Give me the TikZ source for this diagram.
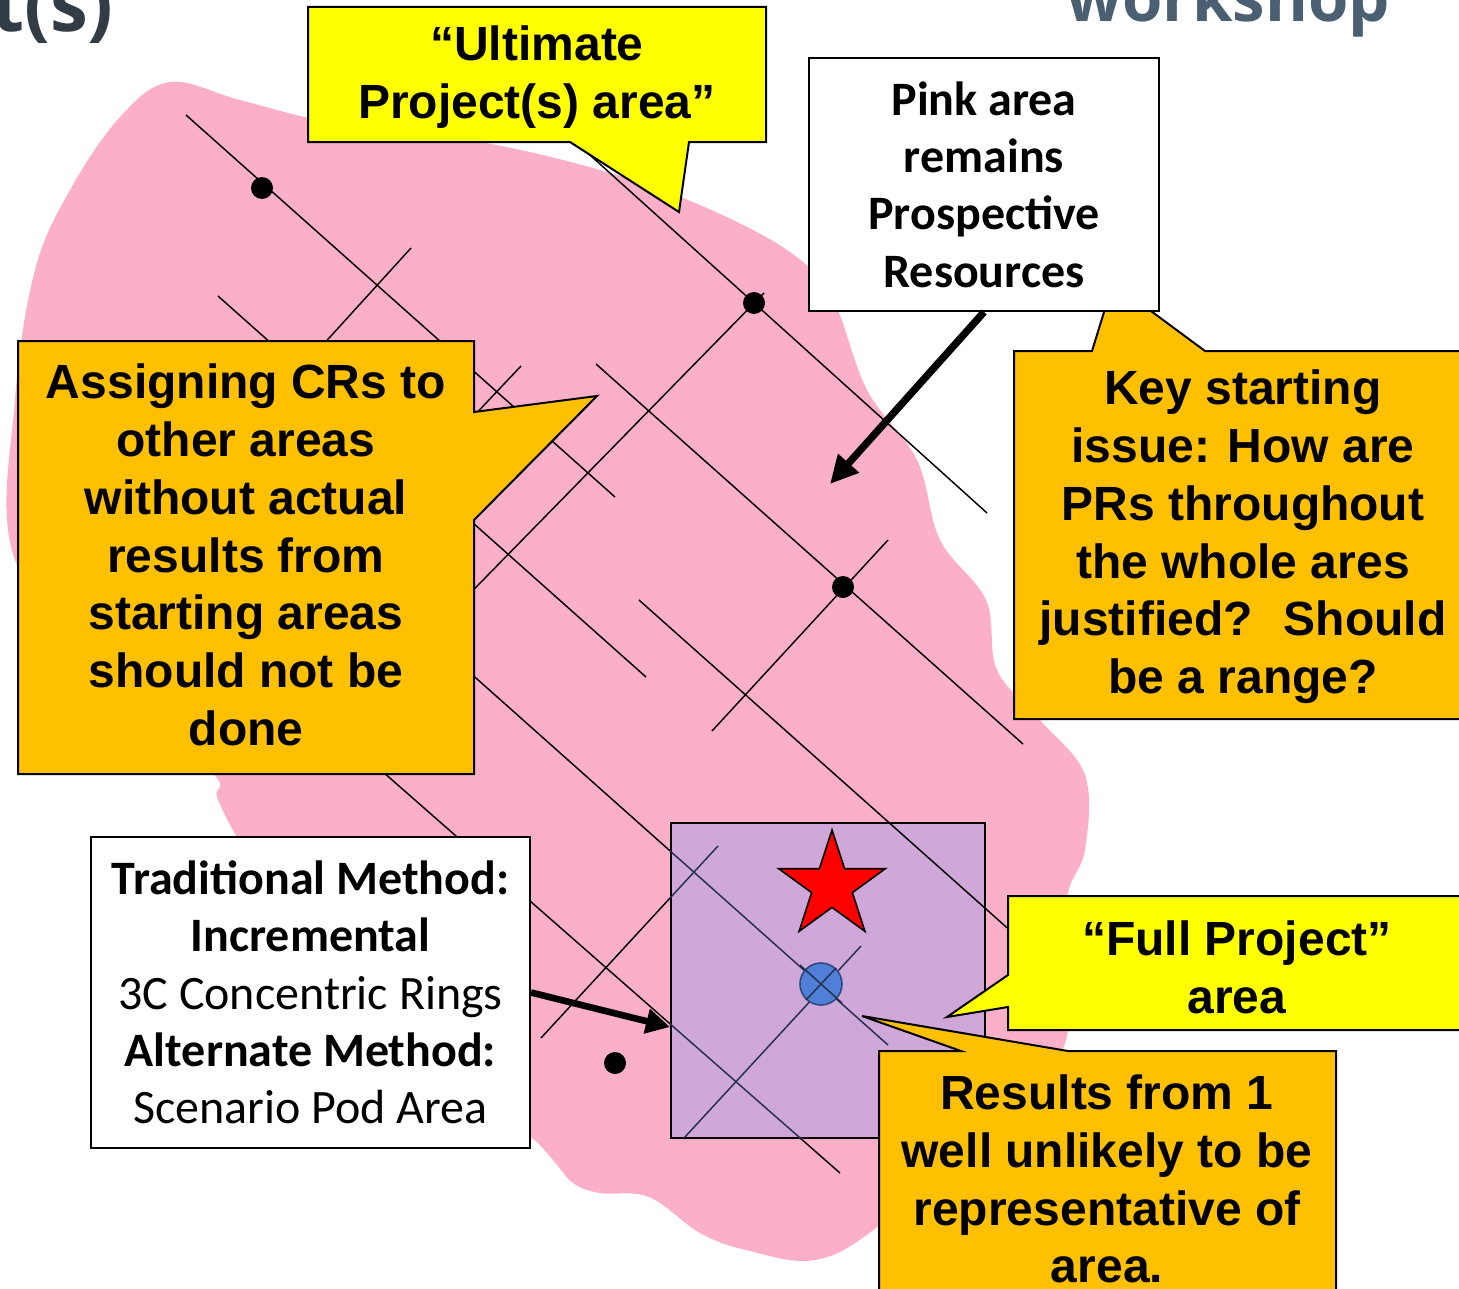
\documentclass[tikz,border=0pt]{standalone}
\usepackage{fontspec}
\setmainfont{Liberation Sans}
\newfontfamily\calibri{Carlito}
\newfontfamily\headfont{Open Sans}
\usetikzlibrary{arrows.meta}

\definecolor{BlobPink}{HTML}{FCAFC9}
\definecolor{PodLilac}{HTML}{CFA8D9}
\definecolor{NoteYellow}{HTML}{FFFF00}
\definecolor{NoteOrange}{HTML}{FFC000}
\definecolor{WellBlue}{HTML}{4F7FD7}
\definecolor{WellEdge}{HTML}{2E4A7D}
\definecolor{PodNavy}{HTML}{24304F}
\definecolor{HeadGray}{HTML}{323C45}
\definecolor{LogoSlate}{HTML}{4A6072}

\tikzset{
  seisline/.style={line width=1.1pt, black},
  podline/.style={line width=1.1pt, PodNavy},
  wellDot/.style={fill=black},
  yellowNote/.style={fill=NoteYellow, draw=black, line width=1.5pt, line join=miter},
  orangeNote/.style={fill=NoteOrange, draw=black, line width=1.5pt, line join=miter},
  noteText/.style={font=\fontsize{36}{43.3}\selectfont\bfseries, align=center, inner sep=0pt},
  whiteNote/.style={draw=black, fill=white, line width=1.5pt, inner sep=0pt,
    align=center, font=\calibri\fontsize{36}{43}\selectfont},
  bigArrow/.style={line width=5.5pt, -{Triangle[length=21pt, width=20pt]}},
}

\begin{document}
\begin{tikzpicture}[x=0.75pt, y=-0.75pt]
  \useasboundingbox (0,0) rectangle (1459,1288);

  % slide heading, cut off by the page edge
  \node[anchor=base east, inner sep=0pt, text=HeadGray,
        font=\headfont\bfseries\fontsize{57}{60}\selectfont] (slideTitle) at (114,32) {t(s)};
  \node[anchor=base west, inner sep=0pt, text=LogoSlate,
        font=\headfont\bfseries\fontsize{49}{52}\selectfont] (workshopLogo) at (1066,22) {workshop};

  % prospective resources (pink area)
  \fill[BlobPink] plot[smooth cycle, tension=0.6] coordinates {
    (170,82) (240,100) (330,122) (480,142) (600,170) (700,205) (790,252)
    (833,300) (867,390) (917,460) (940,540) (986,600) (997,670) (1040,720)
    (1085,775) (1085,850) (1066,905) (1066,1040) (1000,1120) (880,1225)
    (815,1260) (746,1250) (700,1233) (649,1197) (600,1193) (573,1183)
    (553,1160) (530,1137) (500,1133) (463,1110) (413,1070) (380,1043)
    (355,1017) (352,990) (330,967) (290,955) (250,952) (228,944)
    (258,930) (275,903) (263,870) (237,837) (217,797) (213,773) (120,690)
    (15,560) (15,400) (35,270) (70,190) (120,117)};

  % seismic lines
  \foreach \xa/\ya/\xb/\yb in {
      186/115/615/497, 540/110/987/513, 218/296/646/677, 596/364/1023/744,
      440/646/888/1045, 350/743/840/1173,
      411/248/300/370, 521/366/470/420, 440/624/764/293, 712/731/888/540,
      541/1038/718/846, 684/1138/861/946}
    \draw[seisline] (\xa,\ya) -- (\xb,\yb);

  % wells
  \foreach \x/\y in {262/188, 754/303, 843/587, 615/1063}
    \fill[wellDot] (\x,\y) circle (11);

  % scenario pod
  \node[draw=black, fill=PodLilac, line width=1.5pt, inner sep=0pt,
        minimum width=235.5pt, minimum height=236.25pt] (pod) at (828,980.5) {};
  \begin{scope}
    \clip (pod.south west) rectangle (pod.north east);
    \foreach \xa/\ya/\xb/\yb in {440/646/888/1045, 350/743/840/1173,
        541/1038/718/846, 684/1138/861/946}
      \draw[podline] (\xa,\ya) -- (\xb,\yb);
  \end{scope}
  \draw[seisline] (639,600) -- (1050,966);

  \draw[fill=red, line width=1.2pt, line join=miter]
    (832,830) -- (844.6,868.7) -- (885.3,868.7) -- (852.4,892.6) -- (864.9,931.3)
    -- (832,907.4) -- (799.1,931.3) -- (811.6,892.6) -- (778.7,868.7)
    -- (819.4,868.7) -- cycle;
  \draw[fill=WellBlue, draw=WellEdge, line width=1.2pt] (821,984) circle (21);
  \draw[podline] (800,965) -- (842,1003);
  \draw[podline] (806,1000) -- (836,968);

  % callouts
  \draw[yellowNote] (308,7) -- (766,7) -- (766,142) -- (689,142) -- (679,212)
    -- (570,142) -- (308,142) -- cycle;
  \node[noteText] (ultimateText) at (537,77)
    {“Ultimate\\Project(s) area”};

  \draw[orangeNote] (1014,351) -- (1092,351) -- (1113,283) -- (1205,351)
    -- (1470,351) -- (1470,719) -- (1014,719) -- cycle;
  \node[noteText] (keyText) at (1243,537)
    {Key starting\\issue: How are\\PRs throughout\\the whole ares\\justified?~ Should\\be a range?};

  \draw[orangeNote] (18,341) -- (474,341) -- (474,412) -- (597,396) -- (474,520)
    -- (474,774) -- (18,774) -- cycle;
  \node[noteText] (assignText) at (246,555)
    {Assigning CRs to\\other areas\\without actual\\results from\\starting areas\\should not be\\done};

  \draw[yellowNote] (1008,896) -- (1470,896) -- (1470,1030) -- (1008,1030)
    -- (1008,1007) -- (947,1017) -- (1008,975) -- cycle;
  \node[noteText] (fullText) at (1237,967) {“Full Project”\\area};

  \draw[orangeNote] (879,1051) -- (961,1051) -- (862,1016) -- (1068,1051)
    -- (1336,1051) -- (1336,1300) -- (879,1300) -- cycle;
  \node[noteText] (resultsText) at (1107,1179)
    {Results from 1\\well unlikely to be\\representative of\\area.};

  % white notes and their arrows
  \node[whiteNote, minimum width=262.5pt, minimum height=189.75pt] (pinkNote)
    at (984,184.5) {\bfseries Pink area\\\bfseries remains\\\bfseries Prospective\\\bfseries Resources};
  \node[whiteNote, minimum width=329.25pt, minimum height=233.25pt] (methodNote)
    at (310.5,992.5) {\bfseries Traditional Method:\\\bfseries Incremental\\3C Concentric Rings\\\bfseries Alternate Method:\\Scenario Pod Area};

  \coordinate (pinkTip) at (830,484);
  \coordinate (podIn) at (670,1027);
  \draw[bigArrow] (pinkNote.south) -- (pinkTip);
  \draw[bigArrow, line width=5pt, -{Triangle[length=18pt, width=18pt]}]
    (methodNote.east) -- (podIn);
\end{tikzpicture}
\end{document}
